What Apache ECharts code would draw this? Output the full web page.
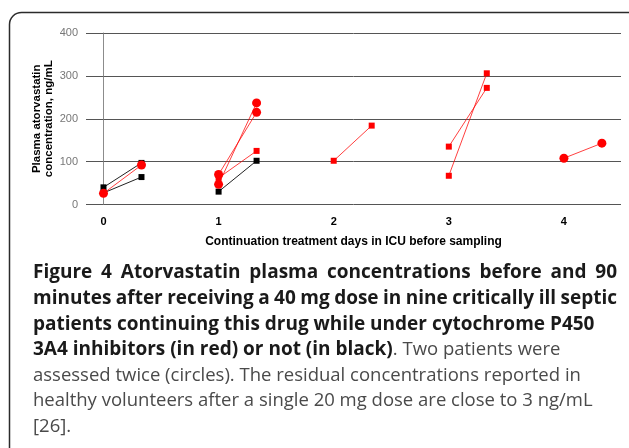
<!DOCTYPE html>
<html><head><meta charset="utf-8">
<script src="https://cdn.jsdelivr.net/npm/echarts@6/dist/echarts.min.js"></script>
<style>html,body{margin:0;padding:0;background:#fff}#c{width:629px;height:448px}</style>
</head><body><div id="c"></div>
<script>
// ---- data ----
const dayTicks = [0, 1, 2, 3, 4];
const yTicks = [0, 100, 200, 300, 400];
// one entry per before/after pair
const inhibitor     = [false, false, false, true,  true,  true,  true,  true,  true,  true,  true];
const assessedTwice = [false, false, false, false, false, false, false, true,  true,  true,  true];
const dayBefore     = [0,    0,    1,    1,    2,    3,    3,    0,    1,    1,    4];
const dayAfter      = [0.33, 0.33, 1.33, 1.33, 2.33, 3.33, 3.33, 0.33, 1.33, 1.33, 4.33];
const concBefore    = [40,   27,   30,   62,   102,  135,  67,   26,   47,   70,   108];
const concAfter     = [97,   64,   102,  125,  184,  272,  306,  92,   237,  215,  143];

const xAxisTitle = 'Continuation treatment days in ICU before sampling';
const yAxisTitle = 'Plasma atorvastatin\nconcentration, ng/mL';

const captionLines = [
  [['b', 'Figure 4 Atorvastatin plasma concentrations before and 90']],
  [['b', 'minutes after receiving a 40 mg dose in nine critically ill septic']],
  [['b', 'patients continuing this drug while under cytochrome P450']],
  [['b', '3A4 inhibitors (in red) or not (in black)'], ['r', '. Two patients were']],
  [['r', 'assessed twice (circles). The residual concentrations reported in']],
  [['r', 'healthy volunteers after a single 20 mg dose are close to 3 ng/mL']],
  [['r', '[26].']]
];
const justifiedLines = [0, 1];

// ---- styling ----
const RED = '#ff0000', BLACK = '#000000';
const CAP_FONT = '"Open Sans", sans-serif';
const CAP_LEFT = 33, CAP_RIGHT = 617, CAP_TOP = 273, CAP_LH = 25.6;
const capStyle = {
  b: { fontWeight: 'bold', fill: '#1a1a1a', size: 19 },
  r: { fontWeight: 'normal', fill: '#4a4a4a', size: 18.5 }
};

const series = inhibitor.map((inh, i) => ({
  type: 'line',
  data: [[dayBefore[i], concBefore[i]], [dayAfter[i], concAfter[i]]],
  symbol: assessedTwice[i] ? 'circle' : 'rect',
  symbolSize: assessedTwice[i] ? 9 : 6,
  showSymbol: true,
  lineStyle: { color: inh ? RED : '#222', width: 1, opacity: inh ? 0.75 : 1 },
  itemStyle: { color: inh ? RED : BLACK },
  animation: false,
  silent: true,
  z: 3
}));

// caption as graphic text
const measureCtx = document.createElement('canvas').getContext('2d');
function fontOf(st) { return st.fontWeight + ' ' + st.size + 'px ' + CAP_FONT; }
function measure(txt, st) {
  measureCtx.font = fontOf(st);
  return measureCtx.measureText(txt).width;
}
const graphics = [{
  type: 'rect',
  shape: { x: 9.5, y: 12.5, width: 640, height: 520, r: 12 },
  style: { fill: 'none', stroke: '#2b2b2b', lineWidth: 1.5 },
  silent: true
}];
captionLines.forEach((segs, li) => {
  const y = CAP_TOP + li * CAP_LH;
  if (justifiedLines.includes(li)) {
    const st = capStyle[segs[0][0]];
    const words = segs[0][1].split(' ');
    const widths = words.map(w => measure(w, st));
    const total = widths.reduce((a, b) => a + b, 0);
    const gap = (CAP_RIGHT - CAP_LEFT - total) / (words.length - 1);
    let x = CAP_LEFT;
    words.forEach((w, wi) => {
      graphics.push({
        type: 'text', x: x, y: y, silent: true,
        style: { text: w, font: fontOf(st), fill: st.fill, textVerticalAlign: 'middle', textAlign: 'left' }
      });
      x += widths[wi] + gap;
    });
  } else {
    const rich = {};
    Object.keys(capStyle).forEach(k => {
      rich[k] = { fontFamily: CAP_FONT, fontSize: capStyle[k].size, fontWeight: capStyle[k].fontWeight, fill: capStyle[k].fill, color: capStyle[k].fill };
    });
    graphics.push({
      type: 'text', x: CAP_LEFT, y: y, silent: true,
      style: { text: segs.map(s => '{' + s[0] + '|' + s[1] + '}').join(''), rich: rich, verticalAlign: 'middle', textVerticalAlign: 'middle', align: 'left' }
    });
  }
});

const chart = echarts.init(document.getElementById('c'), null, { renderer: 'canvas' });
chart.setOption({
  animation: false,
  backgroundColor: '#ffffff',
  grid: { left: 86, right: 8, top: 33, bottom: 243.5, containLabel: false },
  xAxis: {
    type: 'value',
    min: -0.152, max: 4.496,
    name: xAxisTitle,
    nameLocation: 'middle',
    nameGap: 31,
    nameMoveOverlap: false,
    nameTextStyle: { fontFamily: 'Liberation Sans, Arial, sans-serif', fontSize: 12, fontWeight: 'bold', color: '#000' },
    axisLine: { show: false },
    axisTick: { show: false },
    splitLine: { show: false },
    axisLabel: {
      customValues: dayTicks,
      fontFamily: 'Liberation Sans, Arial, sans-serif', fontSize: 11, fontWeight: 'bold', color: '#000', margin: 12
    }
  },
  yAxis: {
    type: 'value',
    min: yTicks[0], max: yTicks[yTicks.length - 1], interval: 100,
    name: yAxisTitle,
    nameLocation: 'middle',
    nameGap: 31,
    nameMoveOverlap: false,
    nameTextStyle: { fontFamily: 'Liberation Sans, Arial, sans-serif', fontSize: 11.5, fontWeight: 'bold', color: '#000', lineHeight: 12 },
    axisLine: { show: true, lineStyle: { color: '#8c8c8c', width: 1 } },
    axisTick: { show: true, length: 3, inside: false, lineStyle: { color: '#555' } },
    splitLine: { show: true, lineStyle: { color: '#555', width: 1 } },
    axisLabel: { fontFamily: 'Liberation Sans, Arial, sans-serif', fontSize: 11, color: '#777', margin: 8 }
  },
  series: series,
  graphic: graphics
});
</script>
</body></html>
